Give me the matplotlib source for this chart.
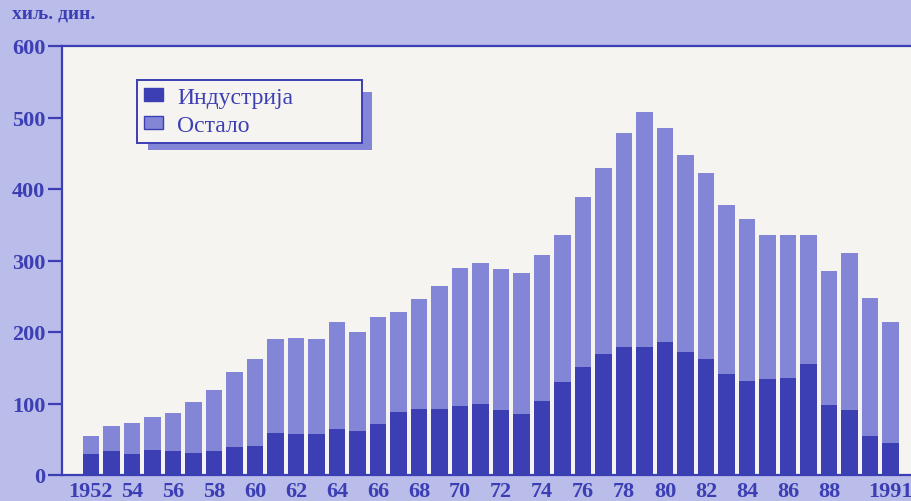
import matplotlib
matplotlib.use('Agg')
from matplotlib import pyplot as plt
from matplotlib.patches import Rectangle, Patch

godine = list(range(1952, 1992))
industrija = [29, 33, 29, 35, 33, 31, 33, 39, 40, 59,
              57, 57, 64, 61, 71, 88, 93, 93, 97, 99,
              91, 85, 104, 130, 151, 169, 179, 179, 186, 172,
              162, 141, 132, 134, 136, 155, 98, 91, 55, 45]
ukupno = [55, 69, 73, 81, 87, 102, 119, 144, 162, 190,
          192, 190, 214, 200, 221, 228, 246, 265, 290, 297,
          288, 283, 307, 335, 389, 430, 478, 508, 485, 447,
          423, 377, 358, 335, 335, 336, 286, 310, 248, 214]
ostalo = [u - i for u, i in zip(ukupno, industrija)]

oznake_x = [1952, 1954, 1956, 1958, 1960, 1962, 1964, 1966, 1968, 1970,
            1972, 1974, 1976, 1978, 1980, 1982, 1984, 1986, 1988, 1991]
tekst_x = ['1952', '54', '56', '58', '60', '62', '64', '66', '68', '70',
           '72', '74', '76', '78', '80', '82', '84', '86', '88', '1991']

plava = '#3c3fb4'
svetla = '#8386d6'
pozadina = '#babce9'

fig = plt.figure(figsize=(9.11, 5.02), dpi=100, facecolor=pozadina)
ax = fig.add_axes([62 / 911, 26 / 502, 849 / 911, 429 / 502])
ax.set_facecolor('#f5f4f0')

ax.bar(godine, industrija, width=0.82, color=plava, zorder=2)
ax.bar(godine, ostalo, width=0.82, bottom=industrija, color=svetla, zorder=2)

ax.set_xlim(1950.59, 1992.0)
ax.set_ylim(0, 600)

for s in ['top', 'left', 'bottom']:
    ax.spines[s].set_color(plava)
    ax.spines[s].set_linewidth(1.6)
ax.spines['right'].set_visible(False)

serif = {'family': 'Liberation Serif', 'weight': 'bold', 'size': 16}
ax.set_yticks([0, 100, 200, 300, 400, 500, 600])
ax.set_yticklabels(['0', '100', '200', '300', '400', '500', '600'], fontdict=serif, color=plava)
ax.tick_params(axis='y', length=10, width=1.6, color=plava, pad=2)
ax.set_xticks(oznake_x)
ax.set_xticklabels(tekst_x, fontdict=serif, color=plava)
ax.tick_params(axis='x', length=0, pad=4)

fig.text(12 / 911, 1 - 14 / 502, 'хиљ. дин.', fontdict={'family': 'Liberation Serif', 'weight': 'bold', 'size': 14},
         color=plava, va='center')

# senka legende
ax.add_patch(Rectangle((148 / 911, 1 - 151 / 502), 224 / 911, 58 / 502,
                       transform=fig.transFigure, facecolor=svetla, edgecolor='none', zorder=4))

ruke = [Patch(facecolor=plava, edgecolor=plava), Patch(facecolor=svetla, edgecolor=plava)]
leg = ax.legend(ruke, ['Индустрија', 'Остало'], loc='upper left', mode='expand',
                bbox_to_anchor=(75 / 849, 0.921 - 62 / 429, 225 / 849, 62 / 429), borderaxespad=0,
                prop={'family': 'Liberation Serif', 'size': 17}, labelcolor=plava,
                frameon=True, fancybox=False, framealpha=1, edgecolor=plava,
                handlelength=0.8, handleheight=0.45, handletextpad=0.6,
                borderpad=0.3, labelspacing=0.3)
leg.get_frame().set_linewidth(1.4)
leg.get_frame().set_facecolor('#f5f4f0')
leg.set_zorder(5)

fig.savefig('out.png', dpi=100, facecolor=fig.get_facecolor())
